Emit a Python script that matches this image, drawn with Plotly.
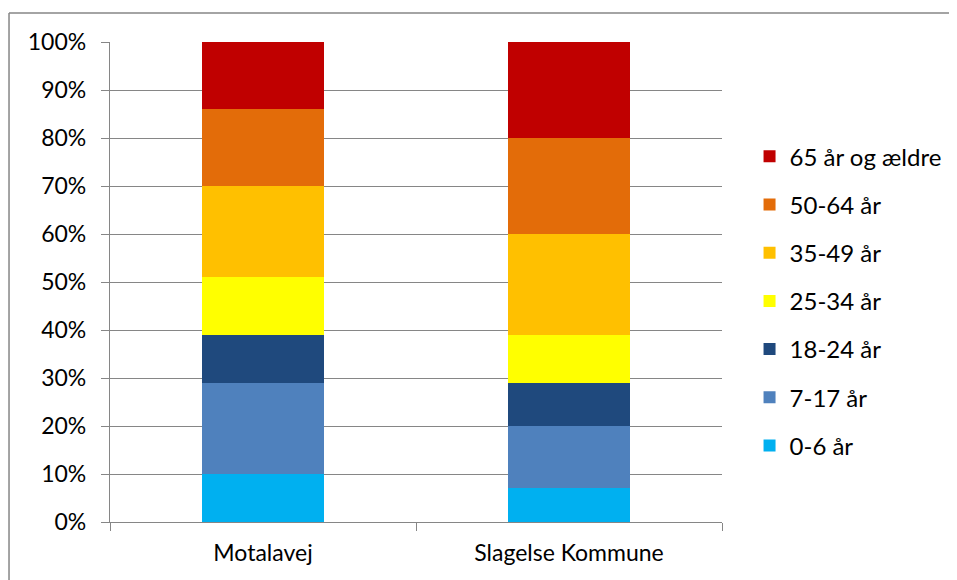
import plotly.graph_objects as go

categories = ['Motalavej', 'Slagelse Kommune']
age_groups = ['0-6 år', '7-17 år', '18-24 år', '25-34 år', '35-49 år', '50-64 år', '65 år og ældre']
motalavej = [10, 19, 10, 12, 19, 16, 14]
slagelse = [7, 13, 9, 10, 21, 20, 20]
colors = ['#00B0F0', '#4F81BD', '#1F497D', '#FFFF00', '#FFC000', '#E36C09', '#C00000']

fig = go.Figure()
for i, name in enumerate(age_groups):
    fig.add_trace(go.Bar(
        x=categories, y=[motalavej[i], slagelse[i]], name=name,
        marker=dict(color=colors[i], line=dict(width=0)),
        legendgroup=name, legendrank=len(age_groups) - i,
        hoverinfo='x+y+name'))

font = 'Lato, "Open Sans", sans-serif'
# page body has an 8px margin, so the figure sits at (8, 8) in the window
fig.update_layout(
    barmode='stack', bargap=0.604,
    width=957, height=580,
    margin=dict(l=102, r=243, t=34, b=66),
    paper_bgcolor='white', plot_bgcolor='white',
    font=dict(family=font, size=23, color='#000000'),
    legend=dict(x=1.045, xanchor='left', y=0.46, yanchor='middle',
                traceorder='grouped', tracegroupgap=14,
                font=dict(size=24), itemwidth=30),
    showlegend=True,
)
fig.update_yaxes(range=[0, 100], dtick=10, ticksuffix='%',
                 showgrid=True, gridcolor='#868686', gridwidth=1.3,
                 showline=True, linecolor='#868686', linewidth=1.3,
                 ticks='outside', ticklen=8, tickcolor='#868686',
                 ticklabelstandoff=10,
                 zeroline=False, tickfont=dict(size=23))
fig.update_xaxes(showline=True, linecolor='#868686', linewidth=1.3,
                 ticks='outside', ticklen=8, tickcolor='#868686',
                 tickson='boundaries', ticklabelstandoff=10,
                 tickfont=dict(size=23))

# outer chart border: only left and top edges are visible in the frame
border = dict(color='#868686', width=1.5)
fig.add_shape(type='line', xref='paper', yref='paper',
              x0=-0.165, y0=-0.5, x1=-0.165, y1=1.0604, line=border, layer='below')
fig.add_shape(type='line', xref='paper', yref='paper',
              x0=-0.165, y0=1.0604, x1=1.6, y1=1.0604, line=border, layer='below')

fig.write_html('out.html')
